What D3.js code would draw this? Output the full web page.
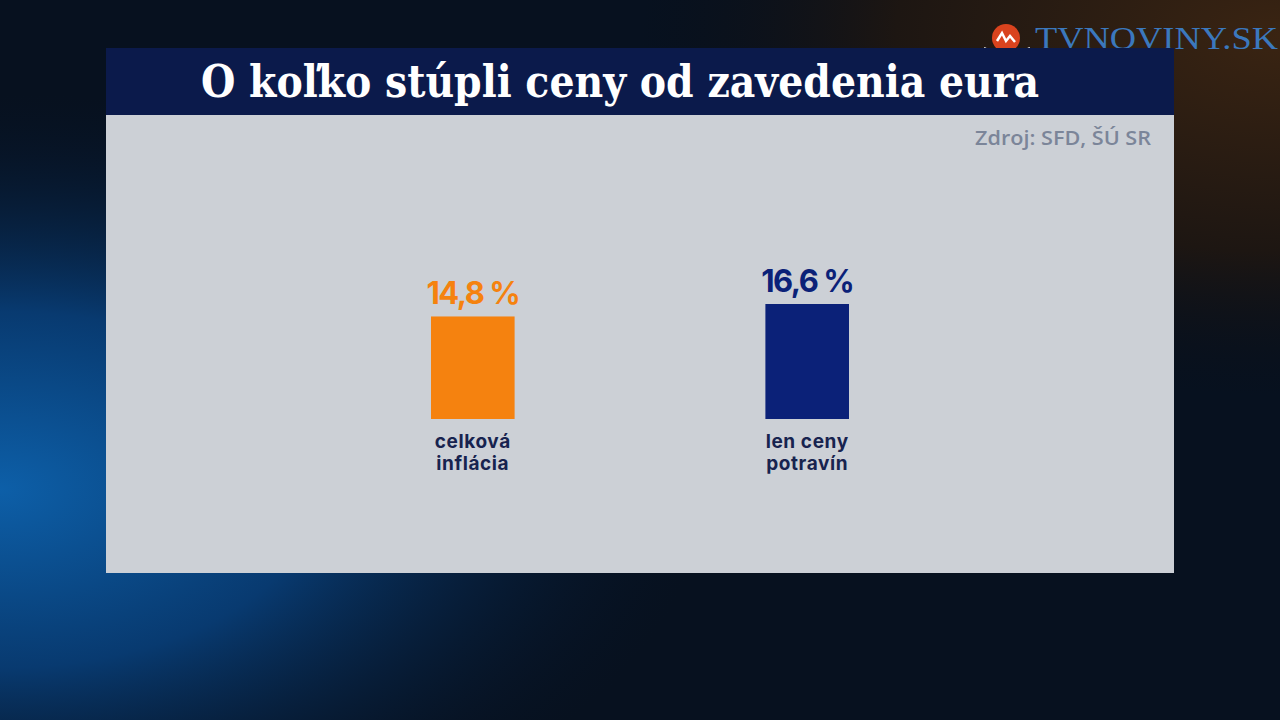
<!DOCTYPE html>
<html>
<head>
<meta charset="utf-8">
<script src="https://cdn.jsdelivr.net/npm/d3@7"></script>
<style>
  body { margin: 0; background: #06101f; }
  svg { display: block; }
</style>
</head>
<body>
<div id="chart-container"></div>
<script>
let width = 1280;
let height = 720;

// data
const categories = ["celková inflácia", "len ceny potravín"];
const values = [14.8, 16.6];
const valueLabels = ["14,8 %", "16,6 %"];
const barColors = ["#f5820f", "#0b2178"];
const labelColors = ["#f5820f", "#0b2178"];

const titleText = "O koľko stúpli ceny od zavedenia eura";
const sourceText = "Zdroj: SFD, ŠÚ SR";

var svg = d3
  .select("#chart-container")
  .append("svg")
  .attr("width", width)
  .attr("height", height);

var defs = svg.append("defs");

// background glows
var blueGlow = defs.append("radialGradient").attr("id", "blueGlow")
  .attr("cx", 0).attr("cy", 0.68).attr("r", 0.55);
blueGlow.append("stop").attr("offset", "0%").attr("stop-color", "#0d5fa8");
blueGlow.append("stop").attr("offset", "45%").attr("stop-color", "#083a70");
blueGlow.append("stop").attr("offset", "100%").attr("stop-color", "#06142a").attr("stop-opacity", 0);

var warmGlow = defs.append("radialGradient").attr("id", "warmGlow")
  .attr("cx", 1).attr("cy", 0.05).attr("r", 0.5);
warmGlow.append("stop").attr("offset", "0%").attr("stop-color", "#3a2412");
warmGlow.append("stop").attr("offset", "60%").attr("stop-color", "#1d1612");
warmGlow.append("stop").attr("offset", "100%").attr("stop-color", "#0a0f18").attr("stop-opacity", 0);

svg.append("rect").attr("width", width).attr("height", height).attr("fill", "#07111f");
svg.append("rect").attr("width", width).attr("height", height).attr("fill", "url(#warmGlow)");
svg.append("rect").attr("width", width).attr("height", height).attr("fill", "url(#blueGlow)");

// logo
var logo = svg.append("g").attr("transform", "translate(1006, 38)");
logo.append("circle").attr("r", 14).attr("fill", "#d9431e");
logo.append("path")
  .attr("d", "M-9,3 L-4,-5 L0,3 L4,-2 L9,4")
  .attr("fill", "none").attr("stroke", "#fff").attr("stroke-width", 2.5);
logo.append("path")
  .attr("d", "M-22,10 Q0,22 24,10")
  .attr("fill", "none").attr("stroke", "#fff").attr("stroke-width", 2);
svg.append("text")
  .attr("x", 1278).attr("y", 49)
  .attr("text-anchor", "end")
  .attr("textLength", 243)
  .attr("lengthAdjust", "spacingAndGlyphs")
  .style("font-family", "'Liberation Serif', serif")
  .style("font-size", "32px")
  .style("fill", "#3b78bd")
  .text("TVNOVINY.SK");

// panel
svg.append("rect").attr("x", 106).attr("y", 115).attr("width", 1068).attr("height", 458)
  .attr("fill", "#ccd0d6");
svg.append("rect").attr("x", 106).attr("y", 48).attr("width", 1068).attr("height", 67)
  .attr("fill", "#0b1a4b");

svg.append("text")
  .attr("x", 620).attr("y", 97)
  .attr("text-anchor", "middle")
  .attr("textLength", 838)
  .attr("lengthAdjust", "spacingAndGlyphs")
  .style("font-family", "'DejaVu Serif', serif")
  .style("font-weight", "bold")
  .style("font-size", "44px")
  .style("fill", "#ffffff")
  .text(titleText);

svg.append("text")
  .attr("x", 1151).attr("y", 145)
  .attr("text-anchor", "end")
  .attr("textLength", 176)
  .attr("lengthAdjust", "spacingAndGlyphs")
  .style("font-family", "'Open Sans', sans-serif")
  .style("font-weight", "600")
  .style("font-size", "20px")
  .style("fill", "#7b8599")
  .text(sourceText);

// scales
let xScale = d3
  .scaleBand()
  .domain(categories)
  .range([431, 849])
  .paddingInner(0.75)
  .paddingOuter(0);

let yScale = d3
  .scaleLinear()
  .domain([0, d3.max(values)])
  .range([419, 304]);

var bars = svg.append("g")
  .selectAll(".bar")
  .data(categories)
  .enter()
  .append("g")
  .attr("class", "bar");

bars.append("rect")
  .attr("x", (d) => xScale(d))
  .attr("y", (d, i) => yScale(values[i]))
  .attr("width", xScale.bandwidth())
  .attr("height", (d, i) => yScale(0) - yScale(values[i]))
  .attr("fill", (d, i) => barColors[i]);

bars.append("text")
  .attr("x", (d) => xScale(d) + xScale.bandwidth() / 2)
  .attr("y", (d, i) => yScale(values[i]) - 12)
  .attr("text-anchor", "middle")
  .style("font-family", "Inter, sans-serif")
  .style("font-weight", "700")
  .style("font-size", "31px")
  .style("letter-spacing", "-1.5px")
  .style("fill", (d, i) => labelColors[i])
  .text((d, i) => valueLabels[i]);

// category labels, two lines each
bars.each(function (d) {
  let words = d.split(" ");
  let lines = words.length > 2 ? [words.slice(0, 2).join(" "), words.slice(2).join(" ")] : words;
  d3.select(this)
    .selectAll(".cat")
    .data(lines)
    .enter()
    .append("text")
    .attr("class", "cat")
    .attr("x", xScale(d) + xScale.bandwidth() / 2)
    .attr("y", (l, j) => 448 + j * 22)
    .attr("text-anchor", "middle")
    .style("font-family", "Inter, sans-serif")
    .style("font-weight", "700")
    .style("font-size", "19px")
    .style("letter-spacing", "0.6px")
    .style("fill", "#17234f")
    .text((l) => l);
});
</script>
</body>
</html>
